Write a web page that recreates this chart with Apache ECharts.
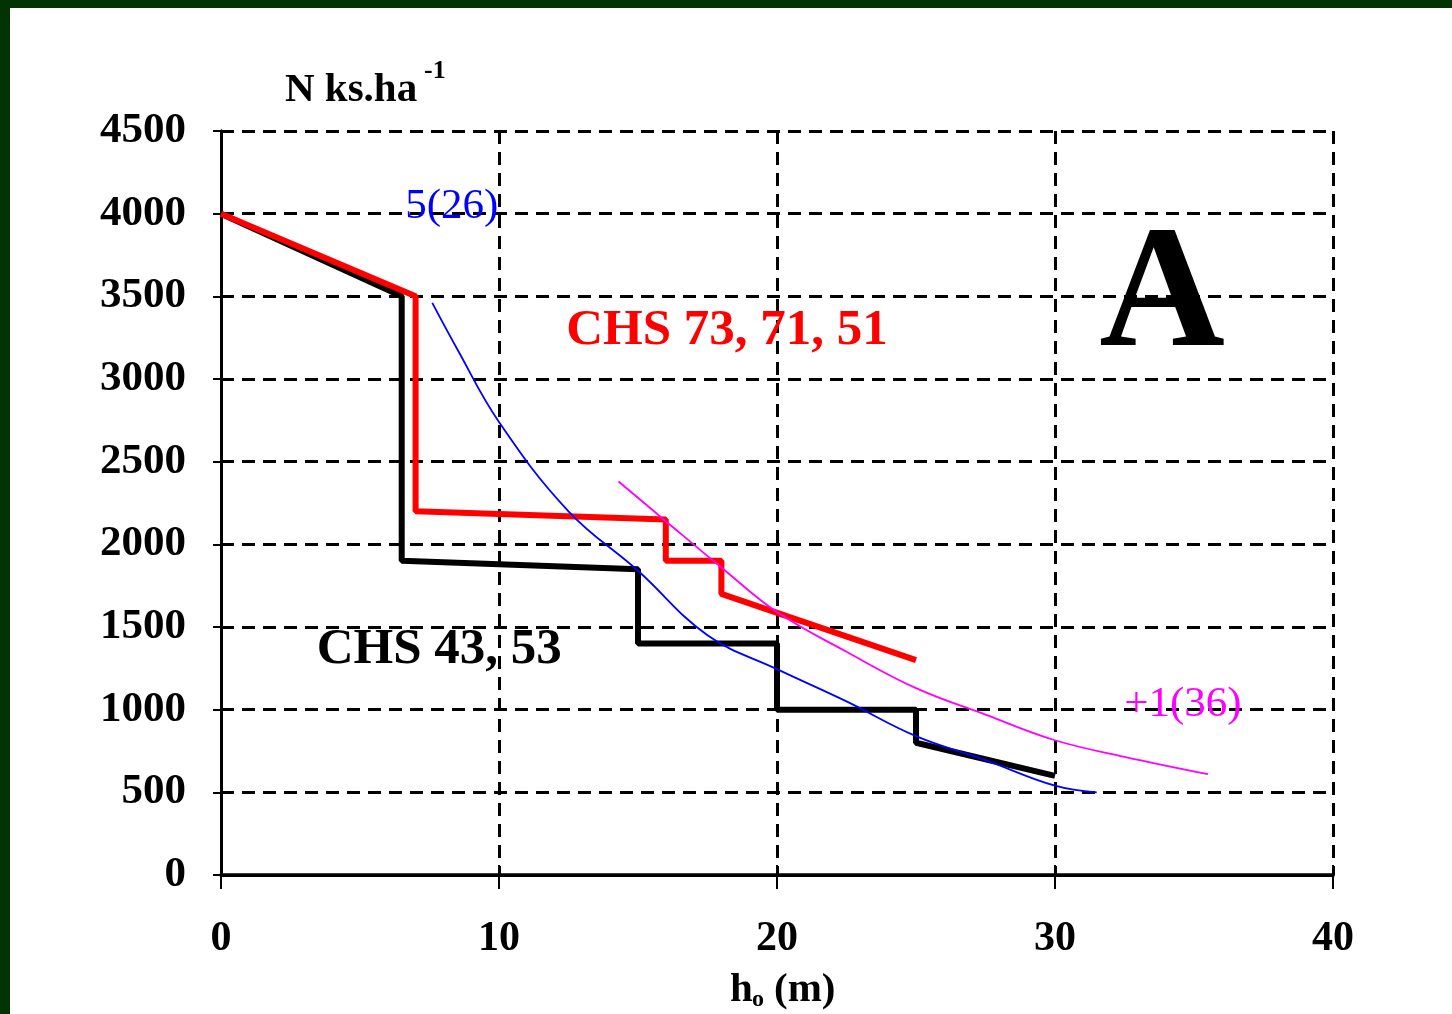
<!DOCTYPE html>
<html><head><meta charset="utf-8">
<script src="https://cdn.jsdelivr.net/npm/echarts/dist/echarts.min.js"></script>
<style>
html,body{margin:0;padding:0;background:#023302;width:1452px;height:1014px;overflow:hidden}
#chart{position:absolute;left:10px;top:8px;width:1442px;height:1006px;background:#fff}
</style></head><body><div id="chart"></div>
<script>
// ---- data ----
const xTickLabels = ['0','10','20','30','40'];
const yTickLabels = ['0','500','1000','1500','2000','2500','3000','3500','4000','4500'];

const chs4353X = [0, 6.5, 6.5, 15, 15, 20, 20, 25, 25, 30];
const chs4353Y = [4000, 3500, 1900, 1850, 1400, 1400, 1000, 1000, 800, 600];

const chs737151X = [0, 7, 7, 16, 16, 18, 18, 25];
const chs737151Y = [4000, 3500, 2200, 2150, 1900, 1900, 1700, 1300];

const curve526X = [7.6, 8.5, 10, 12.5, 15, 17.5, 20, 22.5, 25, 27.5, 30, 31.5];
const curve526Y = [3460, 3180, 2740, 2200, 1840, 1450, 1245, 1050, 840, 695, 540, 500];

const curve136X = [14.3, 16, 18, 20, 22.5, 25, 27.5, 30, 32.5, 35.5];
const curve136Y = [2380, 2140, 1860, 1590, 1350, 1130, 970, 815, 715, 610];

const annotText = ['5(26)', 'CHS 73, 71, 51', 'CHS 43, 53', '+1(36)', 'A'];
const annotX = [8.3, 18.2, 7.85, 34.6, 33.85];
const annotY = [4040, 3290, 1360, 1030, 3480];

// ---- build ----
const zip = (xs, ys) => xs.map((x, i) => [x, ys[i]]);
const FONT = "'Liberation Serif','Times New Roman',serif";
const annotStyle = [
  {color:'#0000ff', fontSize:43, fontWeight:'normal'},
  {color:'#ff0000', fontSize:51, fontWeight:'bold'},
  {color:'#000000', fontSize:51, fontWeight:'bold'},
  {color:'#ff00ff', fontSize:43, fontWeight:'normal'},
  {color:'#000000', fontSize:174, fontWeight:'bold'}
];

const chart = echarts.init(document.getElementById('chart'), null, {renderer:'canvas'});

const annotSeries = annotText.map((t, i) => ({
  type:'scatter', symbolSize:0, silent:true, z:10,
  itemStyle:{opacity:1},
  data:[[annotX[i], annotY[i]]],
  label:{show:true, position:'inside', formatter:t, fontFamily:FONT, opacity:1,
    color:annotStyle[i].color, fontSize:annotStyle[i].fontSize, fontWeight:annotStyle[i].fontWeight}
}));

const gridW = 1112, gridH = 744;
const dashed = {color:'#000', width:3, type:[13,8]};
const option = {
  animation:false,
  grid:{left:211, top:123, width:gridW, height:gridH},
  xAxis:[
    {type:'value', min:0, max:40, interval:10, position:'bottom',
     axisLine:{show:true, lineStyle:{color:'#000', width:3.5}},
     axisTick:{show:true, length:14, lineStyle:{color:'#000', width:2}},
     axisLabel:{margin:43, fontFamily:FONT, fontWeight:'bold', fontSize:42, color:'#000',
       formatter:(v) => xTickLabels[Math.round(v/10)]},
     splitLine:{show:true, lineStyle:dashed}},
    {type:'value', min:0, max:40, interval:10, position:'top',
     axisLine:{show:true, lineStyle:{color:'#000', width:3}},
     axisTick:{show:false}, axisLabel:{show:false}, splitLine:{show:false}},
    {type:'value', min:0, max:40, interval:10, position:'bottom',
     axisLine:{show:false},
     axisTick:{show:true, inside:true, length:10, lineStyle:{color:'#000', width:2}},
     axisLabel:{show:false}, splitLine:{show:false}}
  ],
  yAxis:[
    {type:'value', min:0, max:4500, interval:500, position:'left',
     axisLine:{show:true, lineStyle:{color:'#000', width:3}},
     axisTick:{show:true, length:8, lineStyle:{color:'#000', width:2}},
     axisLabel:{margin:35, fontFamily:FONT, fontWeight:'bold', fontSize:43, color:'#000',
       formatter:(v) => yTickLabels[Math.round(v/500)]},
     splitLine:{show:true, lineStyle:dashed}},
    {type:'value', min:0, max:4500, interval:500, position:'right',
     axisLine:{show:true, lineStyle:{color:'#000', width:3}},
     axisTick:{show:false}, axisLabel:{show:false}, splitLine:{show:false}}
  ],
  series:[
    {type:'line', name:'CHS 43, 53', data:zip(chs4353X, chs4353Y), symbol:'none', z:3,
     lineStyle:{color:'#000', width:6}},
    {type:'line', name:'CHS 73, 71, 51', data:zip(chs737151X, chs737151Y), symbol:'none', z:4,
     lineStyle:{color:'#ff0000', width:6}},
    {type:'line', name:'5(26)', data:zip(curve526X, curve526Y), symbol:'none', smooth:0.4, z:5,
     lineStyle:{color:'#0000ff', width:1.8}},
    {type:'line', name:'+1(36)', data:zip(curve136X, curve136Y), symbol:'none', smooth:0.4, z:5,
     lineStyle:{color:'#ff00ff', width:1.8}},
    ...annotSeries
  ],
  graphic:[
    {type:'text', left:275, top:62, style:{text:'N ks.ha', font:`bold 41px ${FONT}`, fill:'#000'}},
    {type:'text', left:414, top:50, style:{text:'-1', font:`bold 26px ${FONT}`, fill:'#000'}},
    {type:'text', left:720, top:962, style:{text:'h', font:`bold 41px ${FONT}`, fill:'#000'}},
    {type:'text', left:742, top:980, style:{text:'o', font:`bold 24px ${FONT}`, fill:'#000'}},
    {type:'text', left:764, top:962, style:{text:'(m)', font:`bold 41px ${FONT}`, fill:'#000'}}
  ]
};
chart.setOption(option);
</script></body></html>
